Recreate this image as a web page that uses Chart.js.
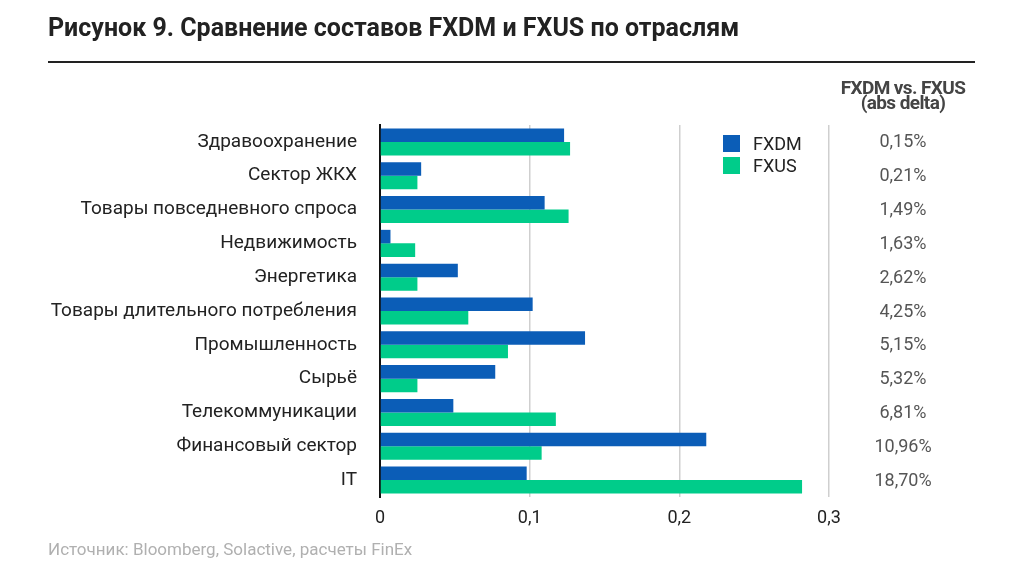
<!DOCTYPE html>
<html>
<head>
<meta charset="utf-8">
<script src="https://cdn.jsdelivr.net/npm/chart.js@4"></script>
<style>
  body { margin: 0; background: #fff; font-family: Roboto, "Open Sans", sans-serif; }
  #wrap { position: relative; width: 1024px; height: 582px; }
  #title { position: absolute; left: 48px; top: 13px; font-size: 25px; font-weight: bold; color: #222; white-space: nowrap; }
  #rule { position: absolute; left: 48px; top: 61px; width: 927px; height: 2px; background: #222; }
  #head { position: absolute; left: 813px; top: 80px; width: 180px; text-align: center; font-size: 19px; font-weight: bold; color: #444; line-height: 15px; letter-spacing: -0.6px; }
  #source { position: absolute; left: 48px; top: 539px; font-size: 17px; color: #b0b0b0; white-space: nowrap; }
</style>
</head>
<body>
<div id="wrap">
  <canvas id="chart"></canvas>
  <div id="title">Рисунок 9. Сравнение составов FXDM и FXUS по отраслям</div>
  <div id="rule"></div>
  <div id="head">FXDM vs. FXUS<br>(abs delta)</div>
  <div id="source">Источник: Bloomberg, Solactive, расчеты FinEx</div>
</div>
<script>
// sectors, top to bottom
const sectors = [
    'Здравоохранение',
    'Сектор ЖКХ',
    'Товары повседневного спроса',
    'Недвижимость',
    'Энергетика',
    'Товары длительного потребления',
    'Промышленность',
    'Сырьё',
    'Телекоммуникации',
    'Финансовый сектор',
    'IT'
];
const fxdm = [0.123, 0.0275, 0.110, 0.007, 0.052, 0.102, 0.137, 0.077, 0.049, 0.218, 0.098];
const fxus = [0.127, 0.025, 0.126, 0.0235, 0.025, 0.059, 0.0855, 0.025, 0.1175, 0.108, 0.282];
const deltas = ['0,15%', '0,21%', '1,49%', '1,63%', '2,62%', '4,25%', '5,15%', '5,32%', '6,81%', '10,96%', '18,70%'];
const xTicks = [0, 0.1, 0.2, 0.3];

const blue = '#0B5DB7';
const green = '#00CC8A';

// legend box inside the plot + delta column on the right
const extras = {
    id: 'extras',
    afterDraw(chart) {
        const ctx = chart.ctx;
        const y = chart.scales.y;
        ctx.save();
        ctx.font = '18px Roboto';
        ctx.fillStyle = '#555';
        ctx.textAlign = 'center';
        ctx.textBaseline = 'middle';
        deltas.forEach((d, i) => {
            ctx.fillText(d, 903, y.getPixelForValue(i) + 1);
        });

        ctx.textAlign = 'left';
        chart.data.datasets.forEach((ds, i) => {
            const top = 135 + i * 22;
            ctx.fillStyle = ds.backgroundColor;
            ctx.fillRect(723, top, 17, 17);
            ctx.fillStyle = '#222';
            ctx.fillText(ds.label, 753, top + 10);
        });
        ctx.restore();
    }
};

new Chart(document.getElementById('chart'), {
    type: 'bar',
    data: {
        labels: sectors,
        datasets: [
            { label: 'FXDM', data: fxdm, backgroundColor: blue },
            { label: 'FXUS', data: fxus, backgroundColor: green }
        ]
    },
    options: {
        indexAxis: 'y',
        responsive: true,
        maintainAspectRatio: false,
        animation: false,
        categoryPercentage: 0.8,
        barPercentage: 1.0,
        layout: { padding: { left: 40, right: 195, top: 125, bottom: 55 } },
        plugins: {
            legend: { display: false },
            tooltip: { enabled: false }
        },
        scales: {
            x: {
                min: 0,
                max: 0.3,
                afterBuildTicks: scale => {
                    scale.ticks = xTicks.map(v => ({ value: v }));
                },
                afterFit: scale => { scale.height = 30; },
                grid: { color: '#cfcfcf', lineWidth: 1.5, drawTicks: false },
                border: { display: false },
                ticks: {
                    padding: 11,
                    color: '#222',
                    font: { family: 'Roboto', size: 18 },
                    callback: v => v === 0 ? '0' : v.toFixed(1).replace('.', ',')
                }
            },
            y: {
                afterFit: scale => { scale.width = 340; },
                grid: { display: false },
                border: { color: '#111', width: 2 },
                ticks: {
                    padding: 15,
                    color: '#222',
                    font: { family: 'Roboto', size: 19 }
                }
            }
        }
    },
    plugins: [extras]
});
</script>
</body>
</html>
